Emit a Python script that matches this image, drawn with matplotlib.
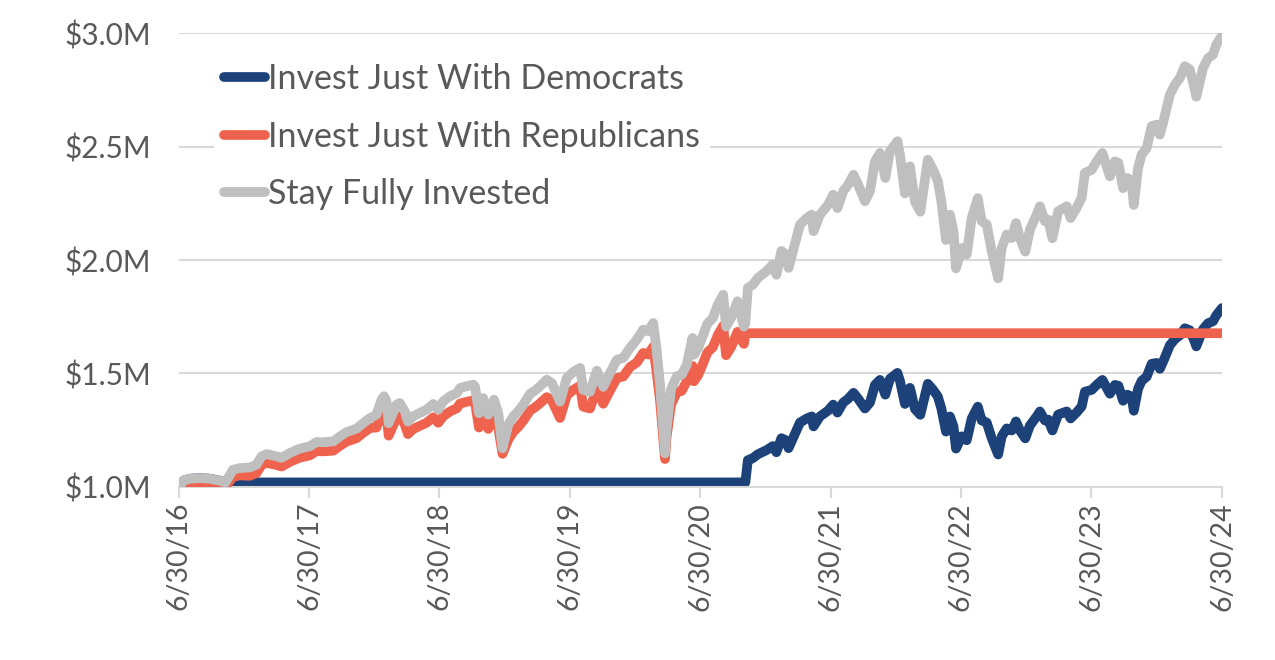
import matplotlib
matplotlib.use("Agg")
import matplotlib.pyplot as plt
import matplotlib.dates as mdates
from matplotlib.ticker import FuncFormatter, FixedLocator
import pandas as pd

# Stay fully invested ($M)
market_dates = [
    "2016-06-30", "2016-07-15", "2016-08-01", "2016-08-29", "2016-09-26", "2016-10-24", "2016-11-08",
    "2016-11-29", "2016-12-18", "2017-01-15", "2017-02-03", "2017-02-17", "2017-03-03", "2017-03-31",
    "2017-04-14", "2017-05-08", "2017-06-04", "2017-07-02", "2017-07-21", "2017-08-09", "2017-09-06",
    "2017-09-25", "2017-10-13", "2017-11-10", "2017-11-29", "2017-12-18", "2018-01-05", "2018-01-19",
    "2018-01-26", "2018-02-02", "2018-02-08", "2018-03-02", "2018-03-11", "2018-03-25", "2018-04-03",
    "2018-04-17", "2018-05-06", "2018-05-25", "2018-06-13", "2018-06-27", "2018-07-11", "2018-07-30",
    "2018-08-18", "2018-08-27", "2018-09-14", "2018-10-03", "2018-10-08", "2018-10-19", "2018-10-31",
    "2018-11-14", "2018-11-30", "2018-12-12", "2018-12-24", "2019-01-09", "2019-01-23", "2019-02-06",
    "2019-02-20", "2019-03-11", "2019-03-25", "2019-04-08", "2019-04-27", "2019-05-11", "2019-06-03",
    "2019-06-22", "2019-07-10", "2019-07-29", "2019-08-07", "2019-08-26", "2019-09-14", "2019-10-02",
    "2019-10-21", "2019-11-09", "2019-11-27", "2019-12-16", "2020-01-04", "2020-01-22", "2020-02-05",
    "2020-02-19", "2020-02-29", "2020-03-09", "2020-03-23", "2020-03-27", "2020-04-09", "2020-04-25",
    "2020-05-09", "2020-05-23", "2020-06-08", "2020-06-12", "2020-06-24", "2020-07-08", "2020-07-20",
    "2020-08-04", "2020-08-18", "2020-09-02", "2020-09-10", "2020-09-24", "2020-10-12", "2020-10-30",
    "2020-11-03", "2020-11-10", "2020-11-24", "2020-12-08", "2021-01-01", "2021-01-19", "2021-01-29",
    "2021-02-12", "2021-02-24", "2021-03-04", "2021-03-21", "2021-04-05", "2021-04-24", "2021-05-08",
    "2021-05-13", "2021-05-31", "2021-06-23", "2021-07-07", "2021-07-19", "2021-08-04", "2021-08-18",
    "2021-09-02", "2021-09-15", "2021-10-04", "2021-10-18", "2021-11-01", "2021-11-15", "2021-11-30",
    "2021-12-13", "2022-01-03", "2022-01-10", "2022-01-24", "2022-02-07", "2022-02-21", "2022-03-08",
    "2022-03-29", "2022-04-12", "2022-04-26", "2022-05-06", "2022-05-19", "2022-05-30", "2022-06-09",
    "2022-06-16", "2022-07-02", "2022-07-16", "2022-07-30", "2022-08-16", "2022-08-27", "2022-09-10",
    "2022-09-24", "2022-10-12", "2022-10-22", "2022-11-05", "2022-11-19", "2022-12-01", "2022-12-12",
    "2022-12-27", "2023-01-09", "2023-01-28", "2023-02-06", "2023-02-20", "2023-03-01", "2023-03-13",
    "2023-03-29", "2023-04-22", "2023-05-03", "2023-05-20", "2023-06-03", "2023-06-12", "2023-07-01",
    "2023-07-15", "2023-07-31", "2023-08-21", "2023-09-04", "2023-09-14", "2023-09-27", "2023-10-09",
    "2023-10-21", "2023-10-27", "2023-11-08", "2023-11-18", "2023-12-02", "2023-12-16", "2023-12-30",
    "2024-01-08", "2024-01-18", "2024-01-27", "2024-02-05", "2024-02-19", "2024-03-04", "2024-03-18",
    "2024-04-01", "2024-04-15", "2024-04-19", "2024-05-08", "2024-05-22", "2024-06-05", "2024-06-14",
    "2024-06-30",
]
market_values = [
    1.000, 1.028, 1.035, 1.038, 1.035, 1.026, 1.019,
    1.075, 1.082, 1.085, 1.097, 1.134, 1.144, 1.134,
    1.127, 1.149, 1.168, 1.178, 1.197, 1.196, 1.200,
    1.222, 1.241, 1.256, 1.281, 1.303, 1.318, 1.384,
    1.399, 1.377, 1.280, 1.362, 1.369, 1.333, 1.287,
    1.310, 1.325, 1.340, 1.365, 1.340, 1.377, 1.399,
    1.413, 1.435, 1.443, 1.450, 1.440, 1.324, 1.391,
    1.318, 1.384, 1.325, 1.169, 1.273, 1.310, 1.333,
    1.362, 1.410, 1.424, 1.443, 1.472, 1.457, 1.375,
    1.480, 1.506, 1.524, 1.427, 1.419, 1.512, 1.441,
    1.502, 1.560, 1.568, 1.612, 1.649, 1.693, 1.686,
    1.722, 1.597, 1.450, 1.147, 1.250, 1.430, 1.487,
    1.494, 1.538, 1.656, 1.582, 1.612, 1.670, 1.720,
    1.744, 1.803, 1.847, 1.706, 1.744, 1.818, 1.706,
    1.720, 1.877, 1.891, 1.921, 1.950, 1.980, 1.935,
    2.040, 2.025, 1.965, 2.067, 2.156, 2.185, 2.200,
    2.127, 2.200, 2.244, 2.288, 2.229, 2.303, 2.332,
    2.376, 2.332, 2.259, 2.303, 2.435, 2.472, 2.362,
    2.480, 2.524, 2.465, 2.294, 2.413, 2.257, 2.213,
    2.442, 2.401, 2.349, 2.259, 2.088, 2.200, 2.127,
    1.963, 2.053, 2.024, 2.185, 2.273, 2.171, 2.156,
    2.040, 1.919, 2.053, 2.112, 2.097, 2.163, 2.097,
    2.037, 2.134, 2.200, 2.237, 2.171, 2.178, 2.096,
    2.215, 2.237, 2.185, 2.231, 2.275, 2.384, 2.398,
    2.435, 2.472, 2.369, 2.435, 2.428, 2.317, 2.362,
    2.347, 2.243, 2.406, 2.465, 2.494, 2.590, 2.597,
    2.553, 2.612, 2.670, 2.729, 2.773, 2.803, 2.855,
    2.840, 2.751, 2.720, 2.847, 2.891, 2.906, 2.950,
    2.990,
]

# Invest just with Republicans: cash until 11/8/16, invested until 11/3/20, then flat
rep_dates = [
    "2016-06-30", "2016-11-08", "2016-11-29", "2016-12-18", "2017-01-15", "2017-02-03", "2017-02-17",
    "2017-03-03", "2017-03-31", "2017-04-14", "2017-05-08", "2017-06-04", "2017-07-02", "2017-07-21",
    "2017-08-09", "2017-09-06", "2017-09-25", "2017-10-13", "2017-11-10", "2017-11-29", "2017-12-18",
    "2018-01-05", "2018-01-19", "2018-01-26", "2018-02-02", "2018-02-08", "2018-03-02", "2018-03-11",
    "2018-03-25", "2018-04-03", "2018-04-17", "2018-05-06", "2018-05-25", "2018-06-13", "2018-06-27",
    "2018-07-11", "2018-07-30", "2018-08-18", "2018-08-27", "2018-09-14", "2018-10-03", "2018-10-08",
    "2018-10-19", "2018-10-31", "2018-11-14", "2018-11-30", "2018-12-12", "2018-12-24", "2019-01-09",
    "2019-01-23", "2019-02-06", "2019-02-20", "2019-03-11", "2019-03-25", "2019-04-08", "2019-04-27",
    "2019-05-11", "2019-06-03", "2019-06-22", "2019-07-10", "2019-07-29", "2019-08-07", "2019-08-26",
    "2019-09-14", "2019-10-02", "2019-10-21", "2019-11-09", "2019-11-27", "2019-12-16", "2020-01-04",
    "2020-01-22", "2020-02-05", "2020-02-19", "2020-02-29", "2020-03-09", "2020-03-23", "2020-03-27",
    "2020-04-09", "2020-04-25", "2020-05-09", "2020-05-23", "2020-06-08", "2020-06-12", "2020-06-24",
    "2020-07-08", "2020-07-20", "2020-08-04", "2020-08-18", "2020-09-02", "2020-09-10", "2020-09-24",
    "2020-10-12", "2020-10-30", "2020-11-03", "2024-06-30",
]
rep_values = [
    1.000, 1.000, 1.044, 1.050, 1.048, 1.060, 1.096,
    1.105, 1.096, 1.089, 1.110, 1.128, 1.138, 1.157,
    1.156, 1.159, 1.181, 1.199, 1.214, 1.238, 1.259,
    1.261, 1.324, 1.339, 1.318, 1.225, 1.303, 1.310,
    1.276, 1.232, 1.254, 1.268, 1.282, 1.306, 1.282,
    1.311, 1.332, 1.346, 1.367, 1.374, 1.381, 1.371,
    1.261, 1.325, 1.255, 1.318, 1.262, 1.145, 1.207,
    1.242, 1.264, 1.291, 1.336, 1.350, 1.368, 1.395,
    1.381, 1.303, 1.403, 1.427, 1.445, 1.353, 1.345,
    1.433, 1.366, 1.424, 1.479, 1.486, 1.528, 1.548,
    1.590, 1.583, 1.617, 1.500, 1.381, 1.122, 1.214,
    1.362, 1.416, 1.423, 1.465, 1.533, 1.465, 1.493,
    1.546, 1.593, 1.615, 1.669, 1.710, 1.580, 1.615,
    1.683, 1.630, 1.677, 1.677,
]

# Invest just with Democrats: invested until 11/8/16, flat until 11/3/20, then invested
dem_dates = [
    "2016-06-30", "2016-07-15", "2016-08-01", "2016-08-29", "2016-09-26", "2016-10-24", "2016-11-08",
    "2020-11-03", "2020-11-10", "2020-11-24", "2020-12-08", "2021-01-01", "2021-01-19", "2021-01-29",
    "2021-02-12", "2021-02-24", "2021-03-04", "2021-03-21", "2021-04-05", "2021-04-24", "2021-05-08",
    "2021-05-13", "2021-05-31", "2021-06-23", "2021-07-07", "2021-07-19", "2021-08-04", "2021-08-18",
    "2021-09-02", "2021-09-15", "2021-10-04", "2021-10-18", "2021-11-01", "2021-11-15", "2021-11-30",
    "2021-12-13", "2022-01-03", "2022-01-10", "2022-01-24", "2022-02-07", "2022-02-21", "2022-03-08",
    "2022-03-29", "2022-04-12", "2022-04-26", "2022-05-06", "2022-05-19", "2022-05-30", "2022-06-09",
    "2022-06-16", "2022-07-02", "2022-07-16", "2022-07-30", "2022-08-16", "2022-08-27", "2022-09-10",
    "2022-09-24", "2022-10-12", "2022-10-22", "2022-11-05", "2022-11-19", "2022-12-01", "2022-12-12",
    "2022-12-27", "2023-01-09", "2023-01-28", "2023-02-06", "2023-02-20", "2023-03-01", "2023-03-13",
    "2023-03-29", "2023-04-22", "2023-05-03", "2023-05-20", "2023-06-03", "2023-06-12", "2023-07-01",
    "2023-07-15", "2023-07-31", "2023-08-21", "2023-09-04", "2023-09-14", "2023-09-27", "2023-10-09",
    "2023-10-21", "2023-10-27", "2023-11-08", "2023-11-18", "2023-12-02", "2023-12-16", "2023-12-30",
    "2024-01-08", "2024-01-18", "2024-01-27", "2024-02-05", "2024-02-19", "2024-03-04", "2024-03-18",
    "2024-04-01", "2024-04-15", "2024-04-19", "2024-05-08", "2024-05-22", "2024-06-05", "2024-06-14",
    "2024-06-30",
]
dem_values = [
    1.000, 1.028, 1.035, 1.038, 1.035, 1.026, 1.019,
    1.019, 1.117, 1.126, 1.143, 1.161, 1.179, 1.152,
    1.214, 1.205, 1.170, 1.230, 1.283, 1.301, 1.310,
    1.266, 1.310, 1.336, 1.362, 1.327, 1.371, 1.388,
    1.414, 1.388, 1.345, 1.371, 1.449, 1.471, 1.406,
    1.476, 1.502, 1.467, 1.365, 1.436, 1.343, 1.317,
    1.454, 1.429, 1.398, 1.345, 1.243, 1.310, 1.266,
    1.168, 1.222, 1.205, 1.301, 1.353, 1.292, 1.283,
    1.214, 1.142, 1.222, 1.257, 1.248, 1.288, 1.248,
    1.213, 1.270, 1.310, 1.332, 1.292, 1.296, 1.248,
    1.318, 1.332, 1.301, 1.328, 1.354, 1.419, 1.427,
    1.449, 1.471, 1.410, 1.449, 1.445, 1.379, 1.406,
    1.397, 1.335, 1.432, 1.467, 1.485, 1.542, 1.546,
    1.520, 1.555, 1.589, 1.624, 1.651, 1.668, 1.699,
    1.690, 1.638, 1.619, 1.695, 1.721, 1.730, 1.756,
    1.788,
]

tick_dates = ["2016-06-30", "2017-06-30", "2018-06-30", "2019-06-30", "2020-06-30",
              "2021-06-30", "2022-06-30", "2023-06-30", "2024-06-30"]
y_ticks = [1.0, 1.5, 2.0, 2.5, 3.0]

BLUE = "#1d4279"
ORANGE = "#ef624d"
GRAY = "#bfbfbf"
TEXT = "#595959"
GRID = "#d9d9d9"
FONT = "Lato"

fig = plt.figure(figsize=(12.75, 6.6), dpi=100)
ax = fig.add_axes([178.7 / 1275, 1 - 486.7 / 660, (1222 - 178.7) / 1275, (486.7 - 33.3) / 660])

lw = 7.0
line_kw = dict(linewidth=lw, solid_capstyle="round", solid_joinstyle="round")
ax.plot(pd.to_datetime(dem_dates), dem_values, color=BLUE, label="Invest Just With Democrats", zorder=2, **line_kw)
ax.plot(pd.to_datetime(rep_dates), rep_values, color=ORANGE, label="Invest Just With Republicans", zorder=3, **line_kw)
ax.plot(pd.to_datetime(market_dates), market_values, color=GRAY, label="Stay Fully Invested", zorder=4, **line_kw)

ax.set_ylim(1.0, 3.0)
ax.set_xlim(pd.Timestamp(tick_dates[0]), pd.Timestamp(tick_dates[-1]))

ax.yaxis.set_major_locator(FixedLocator(y_ticks))
ax.yaxis.set_major_formatter(FuncFormatter(lambda v, p: f"${v:.1f}M"))
ax.xaxis.set_major_locator(FixedLocator(mdates.date2num(pd.to_datetime(tick_dates))))


def fmt_date(v, p):
    d = mdates.num2date(v)
    return f"{d.month}/{d.day}/{d:%y}"


ax.xaxis.set_major_formatter(FuncFormatter(fmt_date))

ax.grid(axis="y", color=GRID, linewidth=1.5, zorder=0)
ax.set_axisbelow(True)
for s in ["top", "right", "left"]:
    ax.spines[s].set_visible(False)
ax.spines["bottom"].set_color(GRID)
ax.spines["bottom"].set_linewidth(1.5)

ax.tick_params(axis="y", length=0, pad=20, labelsize=21.5, labelcolor=TEXT)
ax.tick_params(axis="x", length=8, width=1.5, color=GRID, pad=3, labelsize=20.5,
               labelcolor=TEXT, labelrotation=90)
for lab in ax.get_xticklabels() + ax.get_yticklabels():
    lab.set_fontfamily(FONT)

leg = ax.legend(loc="upper left", bbox_to_anchor=(197 / 1275, 1 - 36 / 660),
                bbox_transform=fig.transFigure, frameon=True, fancybox=False,
                facecolor="white", edgecolor="none", framealpha=1,
                handlelength=1.2, handletextpad=0.08, labelspacing=0.75,
                borderpad=0.3, prop={"family": FONT, "size": 24.5})
for t in leg.get_texts():
    t.set_color(TEXT)
leg.set_zorder(5)

fig.savefig("out.png", dpi=100)
